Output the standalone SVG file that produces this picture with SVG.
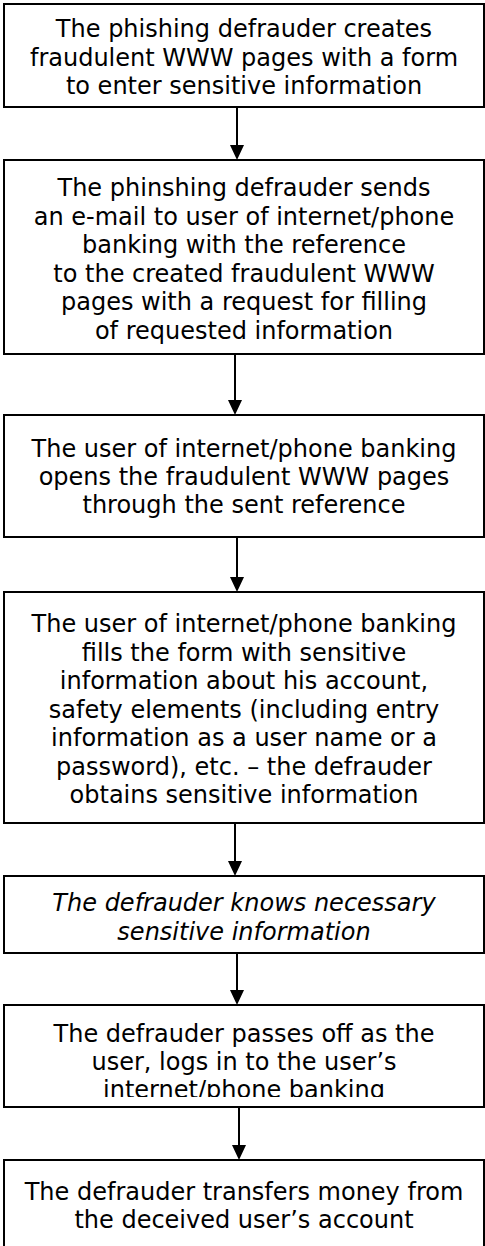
<svg xmlns="http://www.w3.org/2000/svg" width="485" height="1246" viewBox="0 0 485 1246">
<style>
.box{fill:#fff;stroke:#000;stroke-width:2}
.t{font-family:"DejaVu Sans",Verdana,sans-serif;font-size:24px;fill:#000;text-anchor:middle}
.i{font-style:italic}
.c{stroke:#000;stroke-width:2;fill:none}
.h{fill:#000}
</style>
<defs>
<clipPath id="clip6"><rect x="0" y="1005" width="485" height="92"/></clipPath>
</defs>
<rect width="485" height="1246" fill="#fff"/>
<g id="n1">
<rect class="box" x="4" y="4" width="480" height="103"/>
<text class="t"><tspan x="244" y="37">The phishing defrauder creates</tspan><tspan x="244" y="65.5">fraudulent WWW pages with a form</tspan><tspan x="244" y="94">to enter sensitive information</tspan></text>
</g>
<g id="n2">
<rect class="box" x="4" y="160" width="480" height="194"/>
<text class="t"><tspan x="244" y="196">The phinshing defrauder sends</tspan><tspan x="244" y="224.6">an e-mail to user of internet/phone</tspan><tspan x="244" y="253.2">banking with the reference</tspan><tspan x="244" y="281.8">to the created fraudulent WWW</tspan><tspan x="244" y="310.4">pages with a request for filling</tspan><tspan x="244" y="339">of requested information</tspan></text>
</g>
<g id="n3">
<rect class="box" x="4" y="415" width="480" height="122"/>
<text class="t"><tspan x="244" y="457">The user of internet/phone banking</tspan><tspan x="244" y="485">opens the fraudulent WWW pages</tspan><tspan x="244" y="513">through the sent reference</tspan></text>
</g>
<g id="n4">
<rect class="box" x="4" y="592" width="480" height="231"/>
<text class="t"><tspan x="244" y="632">The user of internet/phone banking</tspan><tspan x="244" y="660.5">fills the form with sensitive</tspan><tspan x="244" y="689">information about his account,</tspan><tspan x="244" y="717.5">safety elements (including entry</tspan><tspan x="244" y="746">information as a user name or a</tspan><tspan x="244" y="774.5">password), etc. – the defrauder</tspan><tspan x="244" y="803">obtains sensitive information</tspan></text>
</g>
<g id="n5">
<rect class="box" x="4" y="876" width="480" height="77"/>
<text class="t i"><tspan x="244" y="911">The defrauder knows necessary</tspan><tspan x="244" y="939.5">sensitive information</tspan></text>
</g>
<g id="n6">
<rect class="box" x="4" y="1005" width="480" height="102"/>
<text class="t" clip-path="url(#clip6)"><tspan x="244" y="1042">The defrauder passes off as the</tspan><tspan x="244" y="1070">user, logs in to the user’s</tspan><tspan x="244" y="1098">internet/phone banking</tspan></text>
</g>
<g id="n7">
<rect class="box" x="4" y="1160" width="480" height="100"/>
<text class="t"><tspan x="244" y="1200">The defrauder transfers money from</tspan><tspan x="244" y="1228">the deceived user’s account</tspan></text>
</g>
<g id="connectors">
<line class="c" x1="237" y1="107" x2="237" y2="146"/>
<polygon class="h" points="230,145 244,145 237,160"/>
<line class="c" x1="235" y1="354" x2="235" y2="401"/>
<polygon class="h" points="228,400 242,400 235,415"/>
<line class="c" x1="237" y1="537" x2="237" y2="578"/>
<polygon class="h" points="230,577 244,577 237,592"/>
<line class="c" x1="235" y1="823" x2="235" y2="862"/>
<polygon class="h" points="228,861 242,861 235,876"/>
<line class="c" x1="237" y1="953" x2="237" y2="991"/>
<polygon class="h" points="230,990 244,990 237,1005"/>
<line class="c" x1="239" y1="1107" x2="239" y2="1146"/>
<polygon class="h" points="232,1145 246,1145 239,1160"/>
</g>
</svg>
